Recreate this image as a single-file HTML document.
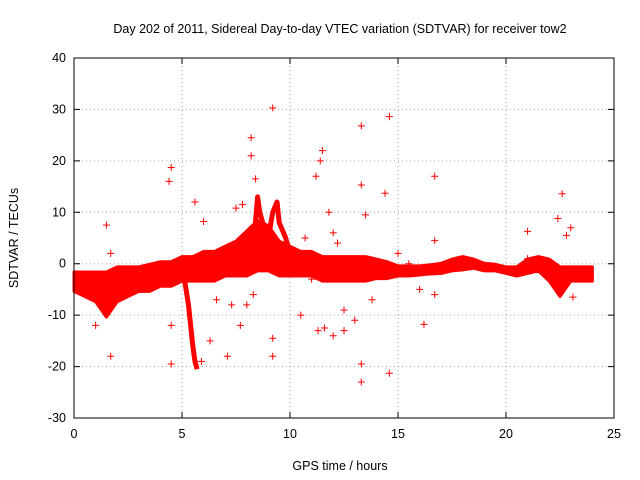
<!DOCTYPE html>
<html><head><meta charset="utf-8"><style>
body{margin:0;background:#fff}
svg{display:block;font-family:"Liberation Sans",sans-serif;font-size:12.5px}
</style></head><body>
<svg id="chart" width="640" height="480" viewBox="0 0 640 480">
<rect width="640" height="480" fill="#fff"/>
<text x="340" y="33" text-anchor="middle">Day 202 of 2011, Sidereal Day-to-day VTEC variation (SDTVAR) for receiver tow2</text>
<text x="340" y="470" text-anchor="middle">GPS time / hours</text>
<text transform="translate(18,238) rotate(-90)" text-anchor="middle">SDTVAR / TECUs</text>
<g id="grid"></g><g id="marks"></g><g id="axes"></g>
</svg>
<script>
const xTicks=[0,5,10,15,20,25];
const yTicks=[-30,-20,-10,0,10,20,30,40];
const bandT=[0,0.5,1,1.5,2,2.5,3,3.5,4,4.5,5,5.5,6,6.5,7,7.5,8,8.5,9,9.5,10,10.5,11,11.5,12,12.5,13,13.5,14,14.5,15,15.5,16,16.5,17,17.5,18,18.5,19,19.5,20,20.5,21,21.5,22,22.5,23,23.5,24];
const bandLo=[-5,-6,-7,-10,-7,-6,-5,-5,-4,-4,-3,-3,-3,-3,-2,-2,-2,-1,-1,-2,-2,-2,-2,-3,-3,-3,-3,-3,-2.5,-2.5,-2,-2,-1.8,-1.6,-1.5,-1,-0.8,-0.5,-1,-1,-1.5,-2,-1.5,-1,-3,-6,-3,-3,-3];
const bandHi=[-2,-2,-2,-2,-1,-1,-1,-0.5,0,0,1,1,2,2,3,4,6,8,7,4,3,2,2,1,1,1,1,1,0.5,0,-0.8,-0.8,-0.8,-0.6,-0.3,0.5,1,0.5,-0.3,-0.5,-1,-1,0.5,1,0.5,-1,-1,-1,-1];
const diveX=[5,5.15,5.3,5.4,5.5,5.6,5.7];
const diveY=[-2,-4,-8,-12,-16,-19,-20.5];
const arcX=[8.3,8.5,8.6,8.8,9,9.2,9.4,9.5,9.8,10];
const arcY=[3,13,10,7,5,10,12,8,5,2];
const outX=[4.5,4.4,4.5,4.5,1.5,1.7,1,1.7,8.2,8.2,9.2,8.4,11.5,11.4,11.2,13.3,13.3,14.6,14.4,16.7,16.7,16.2,13.3,13.3,14.6,9.2,9.2,7.1,7.7,5.9,6.3,11.3,11.6,12,12.5,13,21,22.4,22.6,23,22.8,13.5,12,11.8,10.5,12.5,7.8,7.5,6,5.6,6.6,7.3,8,8.3,11,10.7,12.2,13.8,14,14.6,15.5,16,16.7,21,23.1,15];
const outY=[18.7,16,-19.5,-12,7.5,2,-12,-18,24.5,21,30.3,16.5,22,20,17,26.8,15.3,28.6,13.7,17,4.5,-11.8,-19.5,-23,-21.3,-18,-14.5,-18,-12,-19,-15,-13,-12.5,-14,-13,-11,6.3,8.8,13.6,7,5.5,9.5,6,10,-10,-9,11.5,10.8,8.2,12,-7,-8,-8,-6,-3,5,4,-7,-2,-2,0,-5,-6,1,-6.5,2];
const L=74,R=614,T=58,B=418;
const sx=v=>L+(v-0)/25*(R-L);
const sy=v=>B-(v+30)/70*(B-T);
const NS="http://www.w3.org/2000/svg";
function mk(tag,parent,attrs){const e=document.createElementNS(NS,tag);for(const k in attrs)e.setAttribute(k,attrs[k]);parent.appendChild(e);return e;}
const grid=document.getElementById('grid'),marks=document.getElementById('marks'),axes=document.getElementById('axes');
xTicks.forEach(t=>{
 if(t>0&&t<25){const g=mk('line',grid,{x1:sx(t),x2:sx(t),y1:T,y2:B,stroke:'#a0a0a0','stroke-dasharray':'1,3'});
 
 }
 const tk=mk('path',axes,{d:`M${sx(t)},${B}v-6M${sx(t)},${T}v6`,stroke:'#000'});
 
 
 const tx=mk('text',axes,{x:sx(t),y:B+20,'text-anchor':'middle'});tx.textContent=t;
 
 
});
yTicks.forEach(t=>{
 if(t>-30&&t<40){const g=mk('line',grid,{x1:L,x2:R,y1:sy(t),y2:sy(t),stroke:'#a0a0a0','stroke-dasharray':'1,3'});
 
 }
 const tk=mk('path',axes,{d:`M${L},${sy(t)}h6M${R},${sy(t)}h-6`,stroke:'#000'});
 
 
 const tx=mk('text',axes,{x:L-8,y:sy(t)+4,'text-anchor':'end'});tx.textContent=t;
 
 
});
const fr=mk('rect',axes,{x:L,y:T,width:R-L,height:B-T,fill:'none',stroke:'#000'});


let pts=[];
bandT.forEach((t,i)=>pts.push(sx(t)+','+(sy(bandHi[i])-2)));
for(let i=bandT.length-1;i>=0;i--)pts.push(sx(bandT[i])+','+(sy(bandLo[i])+2));
const band=mk('polygon',marks,{points:pts.join(' '),fill:'#ff0000',stroke:'#ff0000','stroke-width':3,'stroke-linejoin':'round'});


function poly(xs,ys,name){
 const p=mk('polyline',marks,{points:xs.map((x,i)=>sx(x)+','+sy(ys[i])).join(' '),fill:'none',stroke:'#ff0000','stroke-width':5,'stroke-linejoin':'round'});
 
 
}
poly(diveX,diveY,'dive-series');
poly(arcX,arcY,'arc-series');
outX.forEach((x,i)=>{
 const px=sx(x),py=sy(outY[i]);
 const p=mk('path',marks,{d:`M${px-3.5},${py}h7M${px},${py-3.5}v7`,stroke:'#ff0000','stroke-width':1});
 
 
});
</script>
</body></html>
